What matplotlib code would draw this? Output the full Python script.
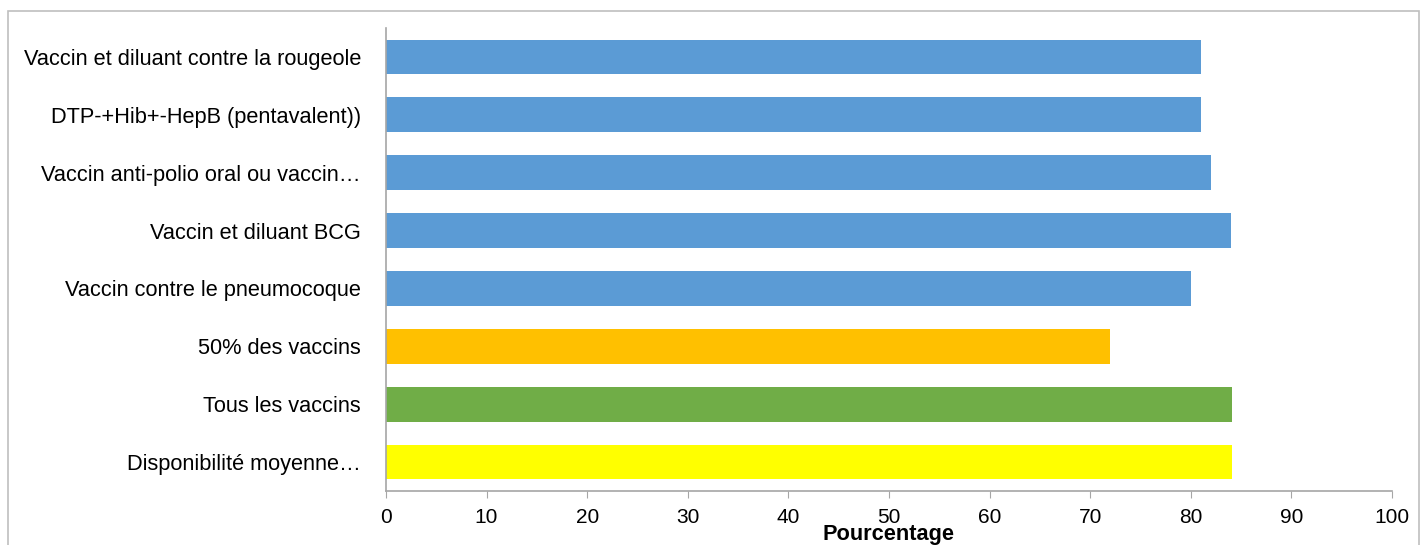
import matplotlib.pyplot as plt
from matplotlib.patches import Rectangle

plt.rcParams['font.family'] = ['Liberation Sans', 'DejaVu Sans']

categories = [
    "Vaccin et diluant contre la rougeole",
    "DTP-+Hib+-HepB (pentavalent))",
    "Vaccin anti-polio oral ou vaccin…",
    "Vaccin et diluant BCG",
    "Vaccin contre le pneumocoque",
    "50% des vaccins",
    "Tous les vaccins",
    "Disponibilité moyenne…",
]
values = [81, 81, 82, 84, 80, 72, 84.1, 84.1]
colors = ['#5B9BD5'] * 5 + ['#FFC000', '#70AD47', '#FFFF00']
xticks = list(range(0, 101, 10))

fig = plt.figure(figsize=(14.22, 5.45), dpi=100)
ax = fig.add_axes([0.2714, 0.0991, 0.7075, 0.8495])

# outer chart border
fig.patches.append(Rectangle((8 / 1422, -0.1), 1411 / 1422, 1.1 - 11 / 545,
                             transform=fig.transFigure, fill=False,
                             edgecolor='#BFBFBF', linewidth=1.2))

pos = list(range(len(categories)))
ax.barh(pos, values, height=0.6, color=colors)
ax.set_ylim(len(categories) - 0.5, -0.5)
ax.set_xlim(0, 100)

ax.set_yticks(pos)
ax.set_yticklabels(categories, fontsize=15.7)
ax.tick_params(axis='y', length=0, pad=18)
ax.set_xticks(xticks)
ax.set_xticklabels([str(t) for t in xticks], fontsize=15)
ax.tick_params(axis='x', length=5, color='#A6A6A6', pad=7, direction='out')

for side in ['top', 'right']:
    ax.spines[side].set_visible(False)
for side in ['left', 'bottom']:
    ax.spines[side].set_color('#A6A6A6')
    ax.spines[side].set_linewidth(1.2)

ax.set_xlabel('Pourcentage', fontsize=15.7, fontweight='bold', labelpad=-2)

fig.savefig('out.png', dpi=100)
